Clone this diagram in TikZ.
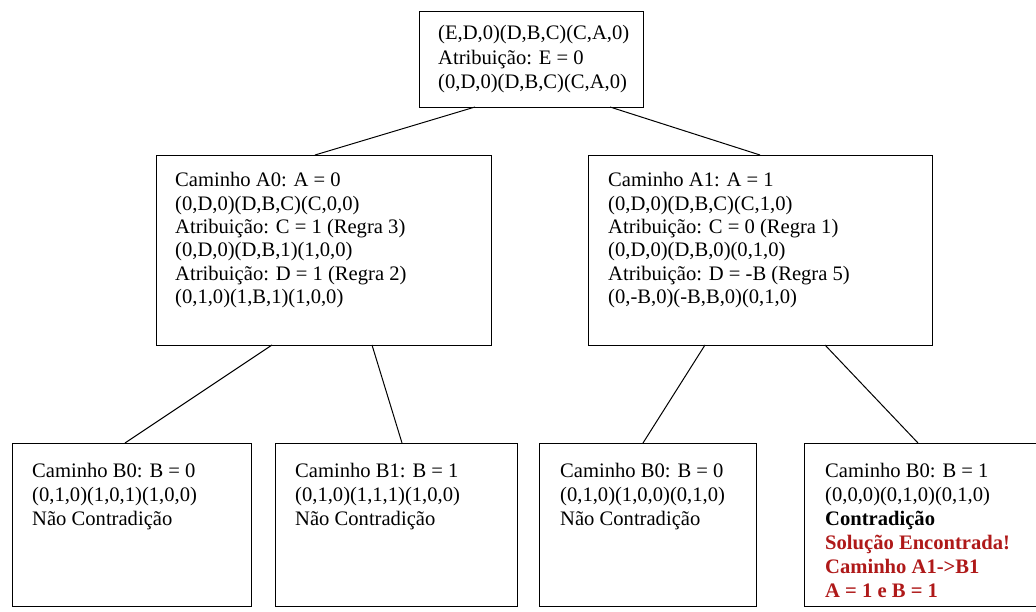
\documentclass[tikz,border=0pt]{standalone}
\usepackage{fontspec}
\setmainfont{Liberation Serif}
\definecolor{solred}{RGB}{175,25,25}
\newcommand{\mlines}[2]{\parbox[t]{300pt}{\fontsize{20.6}{#1}\selectfont\raggedright #2}}
\begin{document}
\begin{tikzpicture}[x=1pt,y=-1pt,
  box/.style={draw=black, line width=1.3pt, inner sep=0pt, anchor=north west},
  txt/.style={anchor=base west, inner sep=0pt},
  conn/.style={line width=1pt}]
\useasboundingbox (0,0) rectangle (1036,612);
\fill[white] (0,0) rectangle (1036,612);

% boxes
\node[box, minimum width=224pt, minimum height=96pt] (top) at (419,11) {};
\node[box, minimum width=335pt, minimum height=190pt] (ml) at (156,155) {};
\node[box, minimum width=344pt, minimum height=190pt] (mr) at (588,155) {};
\node[box, minimum width=239pt, minimum height=163pt] (b1) at (12,443) {};
\node[box, minimum width=242pt, minimum height=163pt] (b2) at (275,443) {};
\node[box, minimum width=217pt, minimum height=163pt] (b3) at (539,443) {};
\node[box, minimum width=240pt, minimum height=163pt] (b4) at (804,443) {};

% texts
\node[txt] (ttop) at (438,40) {\mlines{24.5}{(E,D,0)(D,B,C)(C,A,0)\\Atribuição: E = 0\\(0,D,0)(D,B,C)(C,A,0)}};
\node[txt] (tml) at (175,187) {\mlines{23.3}{Caminho A0: A = 0\\(0,D,0)(D,B,C)(C,0,0)\\Atribuição: C = 1 (Regra 3)\\(0,D,0)(D,B,1)(1,0,0)\\Atribuição: D = 1 (Regra 2)\\(0,1,0)(1,B,1)(1,0,0)}};
\node[txt] (tmr) at (608,187) {\mlines{23.3}{Caminho A1: A = 1\\(0,D,0)(D,B,C)(C,1,0)\\Atribuição: C = 0 (Regra 1)\\(0,D,0)(D,B,0)(0,1,0)\\Atribuição: D = -B (Regra 5)\\(0,-B,0)(-B,B,0)(0,1,0)}};
\node[txt] (tb1) at (32,477) {\mlines{24}{Caminho B0: B = 0\\(0,1,0)(1,0,1)(1,0,0)\\Não Contradição}};
\node[txt] (tb2) at (295,477) {\mlines{24}{Caminho B1: B = 1\\(0,1,0)(1,1,1)(1,0,0)\\Não Contradição}};
\node[txt] (tb3) at (560,477) {\mlines{24}{Caminho B0: B = 0\\(0,1,0)(1,0,0)(0,1,0)\\Não Contradição}};
\node[txt] (tb4) at (825,477) {\mlines{24}{Caminho B0: B = 1\\(0,0,0)(0,1,0)(0,1,0)\\\textbf{Contradição}\\\textcolor{solred}{\textbf{Solução Encontrada!}}\\\textcolor{solred}{\textbf{Caminho A1->B1}}\\\textcolor{solred}{\textbf{A = 1 e B = 1}}}};

% connector end points
\coordinate (t1) at (475,107);
\coordinate (t2) at (610,107);
\coordinate (mlt) at (315,155);
\coordinate (mrt) at (760,155);
\coordinate (mlb1) at (272,345);
\coordinate (mlb2) at (372,345);
\coordinate (mrb1) at (705,345);
\coordinate (mrb2) at (825,345);
\coordinate (b1t) at (125,443);
\coordinate (b2t) at (402,443);
\coordinate (b3t) at (643,443);
\coordinate (b4t) at (918,443);

\draw[conn] (t1) -- (mlt);
\draw[conn] (t2) -- (mrt);
\draw[conn] (mlb1) -- (b1t);
\draw[conn] (mlb2) -- (b2t);
\draw[conn] (mrb1) -- (b3t);
\draw[conn] (mrb2) -- (b4t);
\end{tikzpicture}
\end{document}
